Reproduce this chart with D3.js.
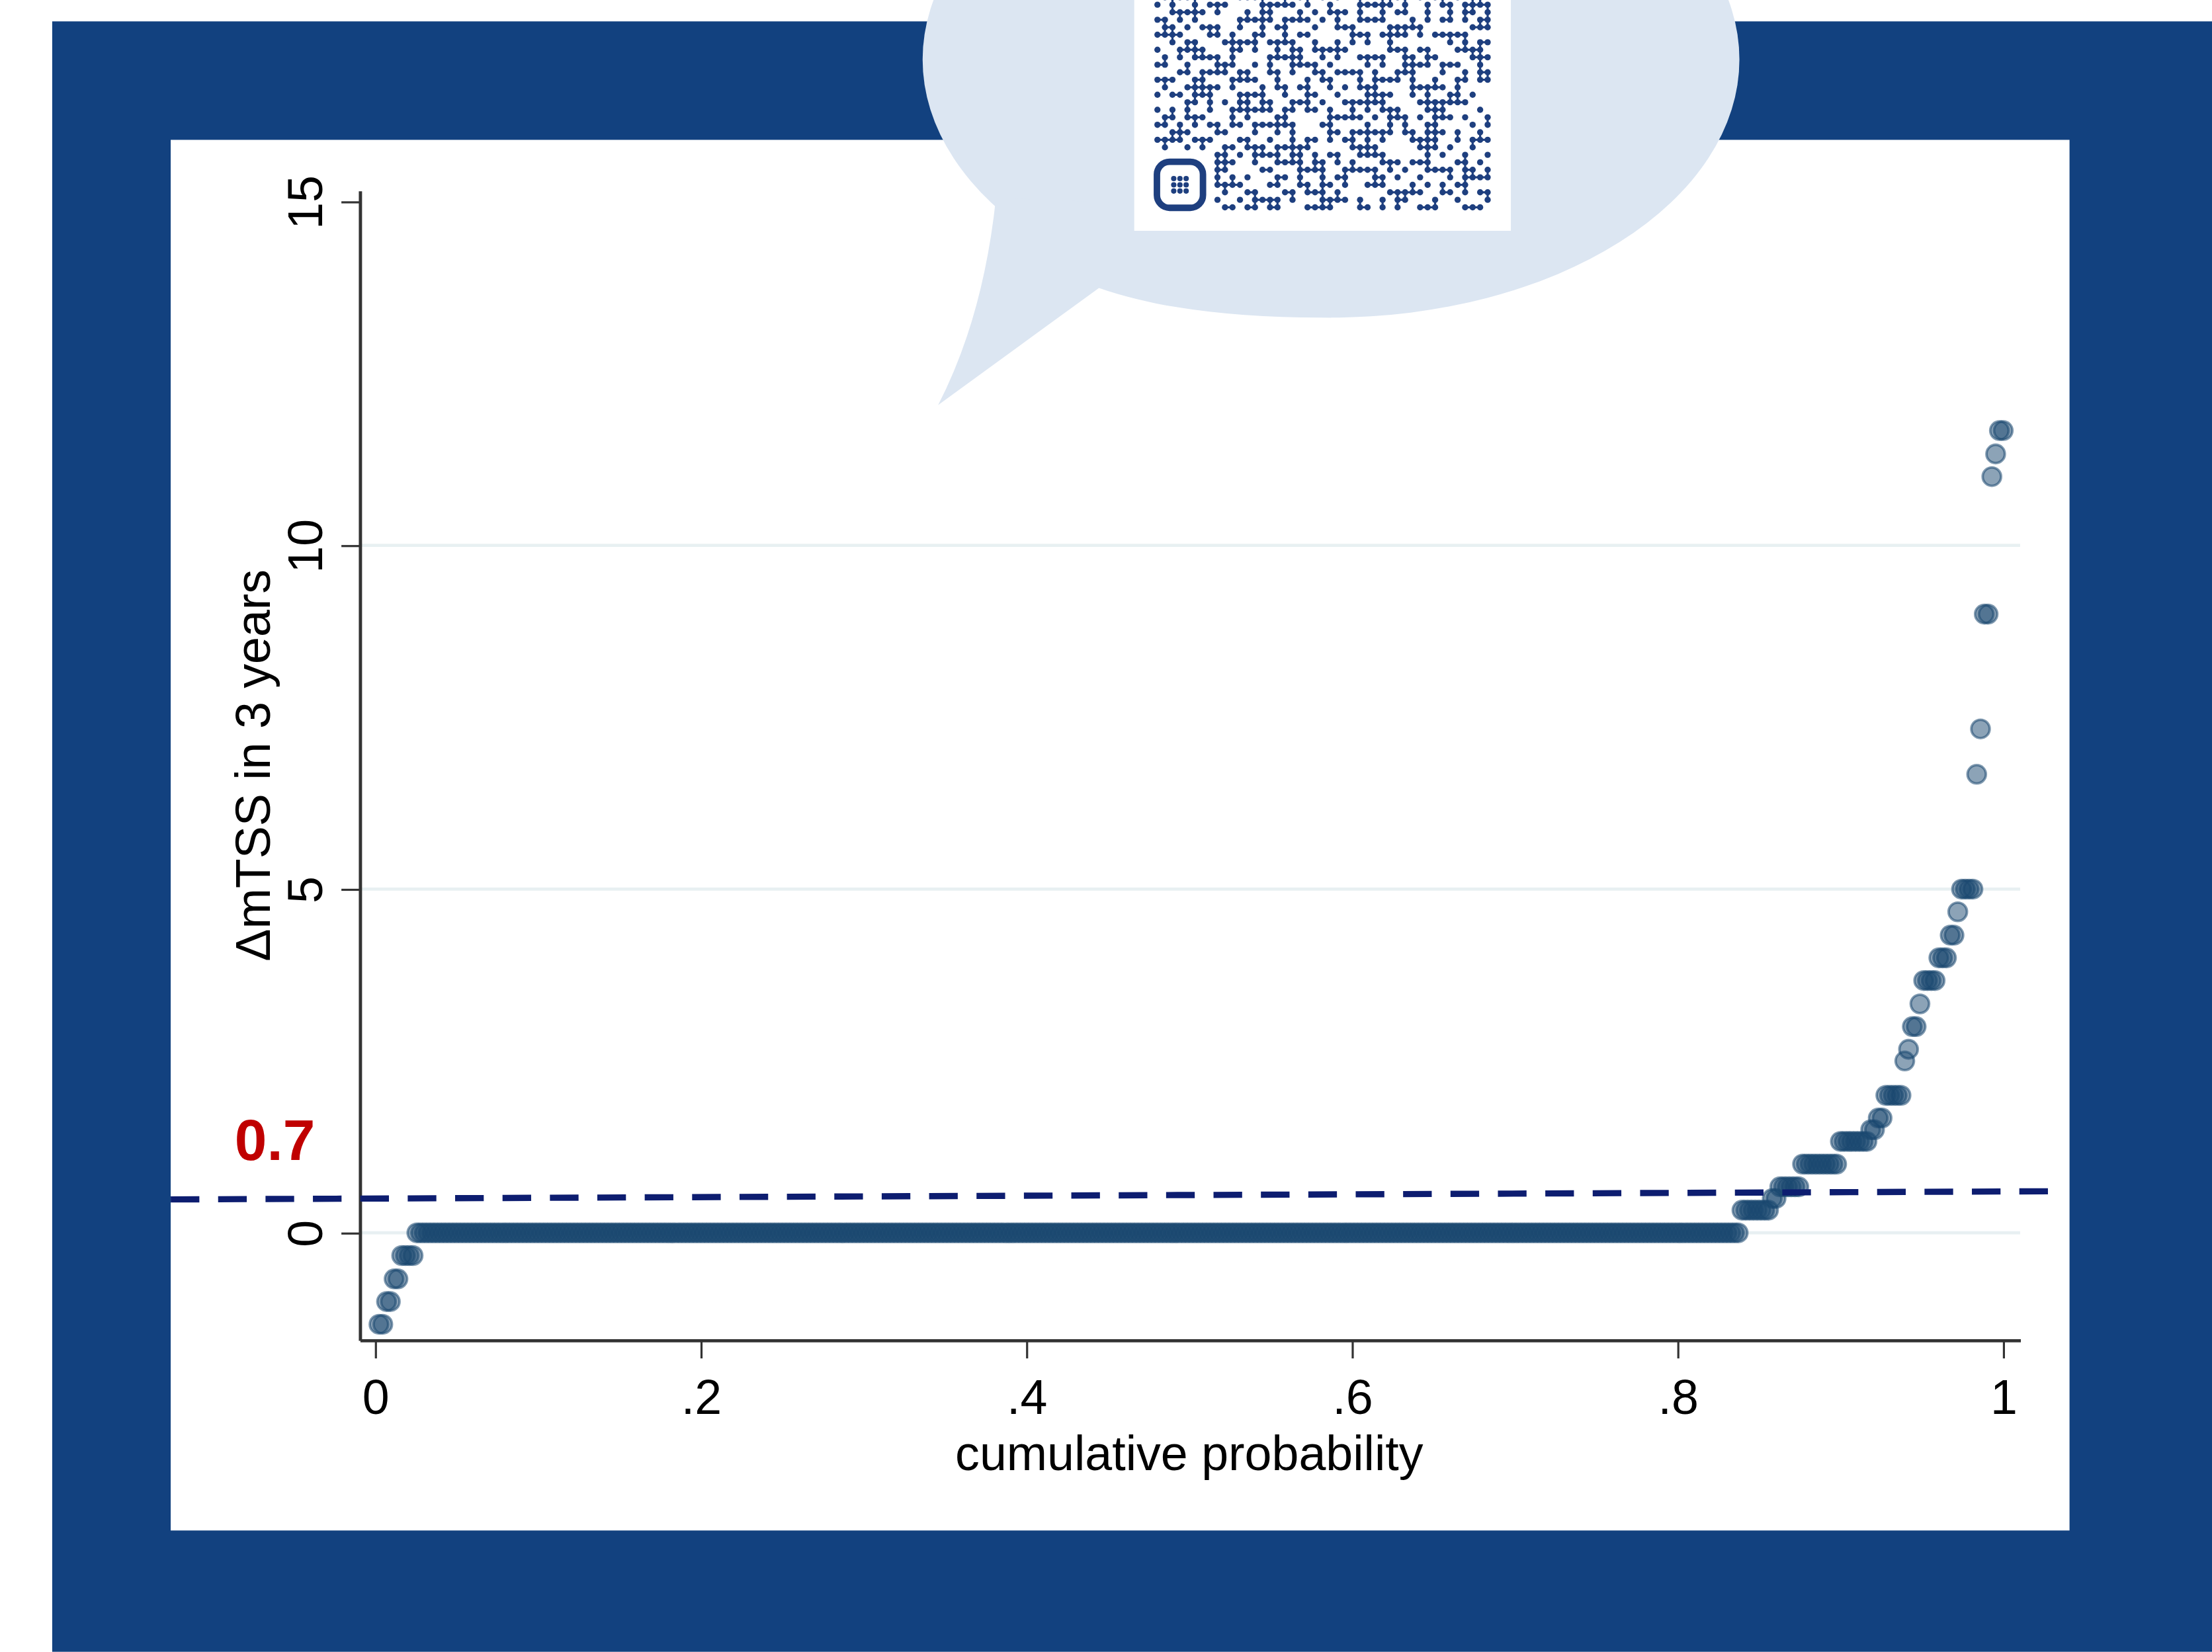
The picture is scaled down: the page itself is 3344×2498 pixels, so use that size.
<!DOCTYPE html>
<html>
<head>
<meta charset="utf-8">
<script src="https://cdn.jsdelivr.net/npm/d3@7"></script>
<style>
  html, body { margin: 0; padding: 0; background: #fff; overflow: hidden; }
</style>
</head>
<body>
<div id="chart"></div>
<script>
// ΔmTSS values (sorted) and how many patients share each value
const deltaValues = [-1.33, -1, -0.67, -0.33, 0, 0.33, 0.5, 0.67, 1, 1.33, 1.5, 1.67, 2, 2.5,
  2.67, 3, 3.33, 3.67, 4, 4.33, 4.67, 5, 6.67, 7.33, 9, 11, 11.33, 11.67];
const patientCounts = [2, 2, 2, 4, 350, 8, 2, 6, 10, 8, 2, 2, 5, 1,
  1, 2, 1, 4, 3, 2, 1, 4, 1, 1, 2, 1, 1, 2];

const xTicks = [0, 0.2, 0.4, 0.6, 0.8, 1];
const xTickLabels = ['0', '.2', '.4', '.6', '.8', '1'];
const yTicks = [0, 5, 10, 15];
const yGrid = [0, 5, 10];

// hand drawn threshold annotation
const thresholdLabel = '0.7';
const thresholdLine = [{ p: -0.1256, v: 0.486 }, { p: 1.032, v: 0.605 }];
const thresholdLabelPos = { p: -0.0863, v: 1.056 };

// QR code rows shown in the speech bubble (bottom part, hex bits)
const qrRows = [
  '7c1e5a93d6b2', 'a5c3e91f4b7d', '3e8b15d2c96a', 'd41f7a9e2b58', '6b92c4e1f03d',
  'f1a6583bd7c4', '2c7de4a9015b', '9e34b7c1d8f2', '57a1f29e6c3b', 'c8e53d0a7b91',
  '1bd9a6f4e25c', 'e63c8b17a4d9', '4fa2d95c3e87', 'b71e4c8f29a6', '0d5b3a7e1fc4',
  'a93f6d2b8e15', '6e28c1f5d74a', 'd5b7e3094c2f', '38c4a1bf6e95', 'f7192d6a3cb8',
  '4a6ef83c1d27', 'c2d7b59e0a4f', '19e4f6a3b8d5', '8bc31e7d4f69', 'e5a8d2c6917b',
  '73f19b4e2ac6', 'ad4c6e81f35b', '5e97a3d2c48e', 'b26d8f1a9c73'
];

const W = 1568, H = 1171;
const font = "'Liberation Sans', Arial, Helvetica, sans-serif";
const navy = '#1a476f';

const svg = d3.select('#chart')
  .append('svg')
  .attr('viewBox', `0 0 ${W} ${H}`)
  .attr('width', 3344)
  .attr('height', 2498);

svg.append('rect').attr('width', W).attr('height', H).attr('fill', '#fff');
svg.append('rect')
  .attr('x', 37).attr('y', 15)
  .attr('width', W - 37).attr('height', H - 15)
  .attr('fill', '#12417f');
svg.append('rect')
  .attr('x', 121).attr('y', 99)
  .attr('width', 1346).attr('height', 986)
  .attr('fill', '#fff');

// expand to one point per patient, cumulative probability = rank / N
const points = [];
deltaValues.forEach((v, i) => {
  for (let k = 0; k < patientCounts[i]; k++) points.push({ value: v });
});
const N = points.length;
points.forEach((d, i) => { d.cum = (i + 1) / N; });

const x = d3.scaleLinear().domain([-0.0095, 1.0104]).range([255, 1432]);
const y = d3.scaleLinear().domain([-1.56, 15.16]).range([950, 135]);

svg.append('g')
  .selectAll('line')
  .data(yGrid)
  .join('line')
  .attr('x1', x.range()[0])
  .attr('x2', x.range()[1])
  .attr('y1', d => y(d))
  .attr('y2', d => y(d))
  .attr('stroke', '#e8f0f2')
  .attr('stroke-width', 2.2);

const xAxis = svg.append('g').attr('transform', `translate(0, ${y.range()[0]})`);
xAxis
  .call(
    d3.axisBottom(x)
      .tickValues(xTicks)
      .tickFormat(d => xTickLabels[xTicks.indexOf(d)])
      .tickSize(13)
      .tickSizeOuter(0)
  )
  .call(g => g.select('.domain').attr('stroke', '#333').attr('stroke-width', 2.3))
  .call(g => g.selectAll('.tick line').attr('stroke', '#333').attr('stroke-width', 1.5))
  .call(g =>
    g.selectAll('.tick text')
      .attr('y', 52.5)
      .attr('dy', 0)
      .attr('fill', '#000')
      .style('font-family', font)
      .style('font-size', '34.5px')
  );

const yAxis = svg.append('g').attr('transform', `translate(${x.range()[0]}, 0)`);
yAxis
  .call(
    d3.axisLeft(y)
      .tickValues(yTicks)
      .tickFormat(d3.format('d'))
      .tickSize(13)
      .tickSizeOuter(0)
  )
  .call(g => g.select('.domain').attr('stroke', '#333').attr('stroke-width', 2.3))
  .call(g => g.selectAll('.tick line').attr('stroke', '#333').attr('stroke-width', 1.5))
  .call(g =>
    g.selectAll('.tick text')
      .attr('transform', 'rotate(-90)')
      .attr('x', 0)
      .attr('y', -26.5)
      .attr('dy', 0)
      .attr('text-anchor', 'middle')
      .attr('fill', '#000')
      .style('font-family', font)
      .style('font-size', '34.5px')
  );

svg.append('text')
  .attr('x', x(0.5))
  .attr('y', 1042)
  .attr('text-anchor', 'middle')
  .attr('fill', '#000')
  .style('font-family', font)
  .style('font-size', '34.5px')
  .text('cumulative probability');

svg.append('text')
  .attr('transform', `translate(191.3, ${(y.range()[0] + y.range()[1]) / 2}) rotate(-90)`)
  .attr('text-anchor', 'middle')
  .attr('fill', '#000')
  .style('font-family', font)
  .style('font-size', '34.5px')
  .text('ΔmTSS in 3 years');

svg.append('g')
  .selectAll('circle')
  .data(points)
  .join('circle')
  .attr('cx', d => x(d.cum))
  .attr('cy', d => y(d.value))
  .attr('r', 6.5)
  .attr('fill', navy)
  .attr('fill-opacity', 0.5)
  .attr('stroke', navy)
  .attr('stroke-opacity', 0.55)
  .attr('stroke-width', 1.8);

svg.append('line')
  .attr('x1', x(thresholdLine[0].p))
  .attr('y1', y(thresholdLine[0].v))
  .attr('x2', x(thresholdLine[1].p))
  .attr('y2', y(thresholdLine[1].v))
  .attr('stroke', '#0d1d70')
  .attr('stroke-width', 4.4)
  .attr('stroke-dasharray', '20.3 13.3');

svg.append('text')
  .attr('x', x(thresholdLabelPos.p))
  .attr('y', y(thresholdLabelPos.v))
  .attr('fill', '#c00000')
  .style('font-family', font)
  .style('font-weight', 'bold')
  .style('font-size', '41px')
  .text(thresholdLabel);

// speech bubble with QR code
const bubbleColor = '#dce6f2';
const bubble = svg.append('g');
bubble.append('ellipse')
  .attr('cx', 943.5).attr('cy', 42)
  .attr('rx', 289.5).attr('ry', 183)
  .attr('fill', bubbleColor);
bubble.append('path')
  .attr('d', 'M706,140 Q697,225 665,287 L779,204 C822,219 878,225.5 943.5,225 L943.5,150 Z')
  .attr('fill', bubbleColor);
bubble.append('rect')
  .attr('x', 804).attr('y', -10)
  .attr('width', 267).attr('height', 173.5)
  .attr('fill', '#fff');

const qrColor = '#1e3f7f';
const mod = 5.32, qrLeft = 817.8, qrBottom = 149.5, qrSize = 45;
const firstRow = qrSize - qrRows.length;
const bits = qrRows.map(h =>
  h.split('').map(c => parseInt(c, 16).toString(2).padStart(4, '0')).join('').slice(0, qrSize).split('').map(Number)
);
// keep finder pattern area and its separator clear
bits.forEach((row, ri) => {
  const r = firstRow + ri;
  row.forEach((b, c) => {
    if (r >= qrSize - 8 && c <= 7) row[c] = 0;
  });
});
const cx = c => qrLeft + (c + 0.5) * mod;
const cy = r => qrBottom - (qrSize - r - 0.5) * mod;
const qrDots = [], qrLinks = [];
bits.forEach((row, ri) => {
  const r = firstRow + ri;
  row.forEach((b, c) => {
    if (!b) return;
    qrDots.push({ r, c });
    if (c + 1 < qrSize && row[c + 1]) qrLinks.push({ r1: r, c1: c, r2: r, c2: c + 1 });
    if (ri + 1 < bits.length && bits[ri + 1][c]) qrLinks.push({ r1: r, c1: c, r2: r + 1, c2: c });
  });
});
const qr = bubble.append('g');
qr.selectAll('line')
  .data(qrLinks)
  .join('line')
  .attr('x1', d => cx(d.c1)).attr('y1', d => cy(d.r1))
  .attr('x2', d => cx(d.c2)).attr('y2', d => cy(d.r2))
  .attr('stroke', qrColor)
  .attr('stroke-width', 1.5);
qr.selectAll('circle')
  .data(qrDots)
  .join('circle')
  .attr('cx', d => cx(d.c)).attr('cy', d => cy(d.r))
  .attr('r', 2.2)
  .attr('fill', qrColor);

// finder pattern
qr.append('rect')
  .attr('x', qrLeft + 2.3).attr('y', cy(qrSize - 7) - mod / 2 + 2.3)
  .attr('width', 7 * mod - 4.6).attr('height', 7 * mod - 4.6)
  .attr('rx', 9)
  .attr('fill', 'none')
  .attr('stroke', qrColor)
  .attr('stroke-width', 4.6);
const finderCells = [];
for (let i = 0; i < 3; i++) for (let j = 0; j < 3; j++) finderCells.push({ i, j });
qr.append('g')
  .selectAll('circle')
  .data(finderCells)
  .join('circle')
  .attr('cx', d => qrLeft + 3.5 * mod + (d.i - 1) * 4.4)
  .attr('cy', d => cy(qrSize - 4) + (d.j - 1) * 4.4)
  .attr('r', 1.9)
  .attr('fill', qrColor);
</script>
</body>
</html>
